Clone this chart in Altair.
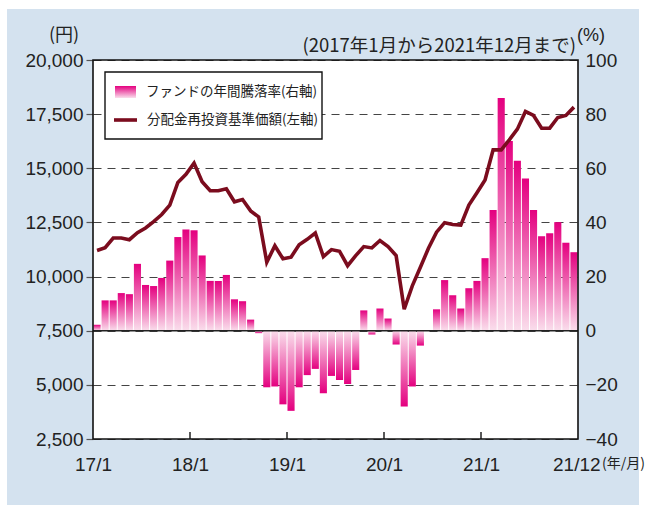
import altair as alt
import pandas as pd

# ---- data ----
months = list(range(60))  # 2017/1 .. 2021/12
fund_change = [2.2, 11.2, 11.2, 13.9, 13.5, 24.7, 16.9, 16.5, 19.5, 25.9,
               34.6, 37.4, 37.1, 27.8, 18.4, 18.4, 20.6, 11.6, 10.9, 4.1,
               -0.9, -20.9, -20.6, -27.2, -29.6, -20.9, -16.4, -14.1, -23.1, -16.7,
               -18.2, -19.7, -14.5, 7.5, -1.4, 8.2, 4.5, -5.1, -28.0, -20.6,
               -5.5, 0.2, 7.9, 18.7, 13.1, 8.2, 15.7, 18.4, 26.8, 44.6,
               86.0, 70.1, 62.8, 56.2, 44.6, 34.9, 36.0, 40.1, 32.5, 29.0]
nav = [11207, 11331, 11780, 11780, 11703, 12028, 12245, 12539, 12864, 13297,
       14350, 14721, 15240, 14380, 13963, 13963, 14056, 13452, 13560, 13034,
       12755, 10665, 11424, 10820, 10897, 11470, 11718, 12012, 10925, 11246,
       11169, 10503, 10967, 11385, 11323, 11664, 11385, 10967, 8490, 9574,
       10426, 11308, 12051, 12490, 12407, 12377, 13303, 13874, 14460, 15849,
       15849, 16312, 16806, 17623, 17438, 16852, 16852, 17346, 17438, 17824]
tick_months = [0, 12, 24, 36, 48]
tick_labels = ["17/1", "18/1", "19/1", "20/1", "21/1"]
last_label = "21/12"
last_unit = "(年/月)"
left_ticks = [2500, 5000, 7500, 10000, 12500, 15000, 17500, 20000]
right_ticks = [-40, -20, 0, 20, 40, 60, 80, 100]
legend_labels = ["ファンドの年間騰落率(右軸)", "分配金再投資基準価額(左軸)"]
unit_left = "(円)"
unit_right = "(%)"
period = "(2017年1月から2021年12月まで)"

W, H = 485, 379
NUM_FONT = "Liberation Sans, Arial, Noto Sans CJK JP"
JP_FONT = "Noto Sans CJK JP"
PINK = "#e4007f"
PINK_LIGHT = "#fadeec"
LINE = "#7b0c1e"
BG = "#d4e2ef"
NUM_SIZE = 19

df = pd.DataFrame({"m": months, "chg": fund_change, "nav": nav})
one = pd.DataFrame({"k": [0]})

label_arr = "[" + ",".join("'%s'" % t for t in tick_labels) + "]"
x_axis = alt.Axis(values=tick_months, labelExpr=label_arr + "[round(datum.value/12)]",
                  ticks=False, domain=False, grid=False, labelFlush=False,
                  labelFont=NUM_FONT, labelFontSize=NUM_SIZE, labelColor="#222",
                  labelPadding=16, title=None)
x_scale = alt.Scale(domain=[0, 60], nice=False, zero=False)

right_axis = alt.Axis(orient="right", values=right_ticks, ticks=False, domain=False,
                      grid=False, labelFont=NUM_FONT, labelFontSize=NUM_SIZE,
                      labelColor="#222", labelPadding=7, title=None)
left_axis = alt.Axis(orient="left", values=left_ticks,
                     labelExpr="format(datum.value, ',')", domain=False,
                     grid=True, gridDash=[8, 6], gridColor="#444", gridWidth=1.2,
                     ticks=True, tickSize=7, tickColor="#555", tickWidth=1.2,
                     labelFont=NUM_FONT, labelFontSize=NUM_SIZE, labelColor="#222",
                     labelPadding=3, title=None)
y_right = alt.Scale(domain=[-40, 100], nice=False, zero=False)
y_left = alt.Scale(domain=[2500, 20000], nice=False, zero=False)

grad_up = alt.Gradient(gradient="linear", x1=0, x2=0, y1=1, y2=0,
                       stops=[alt.GradientStop(color=PINK_LIGHT, offset=0),
                              alt.GradientStop(color=PINK, offset=1)])
grad_down = alt.Gradient(gradient="linear", x1=0, x2=0, y1=0, y2=1,
                         stops=[alt.GradientStop(color=PINK_LIGHT, offset=0),
                                alt.GradientStop(color=PINK, offset=1)])

# ---- white margin strips around the blue panel ----
def strip(x, x2, y, y2):
    return alt.Chart(one).mark_rect(color="white").encode(
        x=alt.value(x), x2=alt.value(x2), y=alt.value(y), y2=alt.value(y2))

margins = alt.layer(strip(-93, 553, -60, -51), strip(-93, -86, -60, 451),
                    strip(546, 553, -60, 451), strip(-93, 553, 445, 451))

# ---- bars (right axis) ----
base = alt.Chart(df).transform_calculate(
    x0="datum.m + 0.06", x1="datum.m + 0.94", xc="datum.m + 0.5")

pos = base.transform_filter("datum.chg >= 0").mark_bar(fill=grad_up).encode(
    x=alt.X("x0:Q", scale=x_scale, axis=x_axis), x2="x1:Q",
    y=alt.Y("chg:Q", scale=y_right, axis=right_axis), y2=alt.Y2(datum=0))
neg = base.transform_filter("datum.chg < 0").mark_bar(fill=grad_down).encode(
    x=alt.X("x0:Q", scale=x_scale, axis=x_axis), x2="x1:Q",
    y=alt.Y("chg:Q", scale=y_right, axis=right_axis), y2=alt.Y2(datum=0))
zero = alt.Chart(one).mark_rule(color="#222", strokeWidth=1.6).encode(
    y=alt.YDatum(0, scale=y_right, axis=right_axis))
tick_df = pd.DataFrame({"t": tick_months[1:]})
inward = alt.Chart(tick_df).mark_rule(color="#222", strokeWidth=1.5).encode(
    x=alt.X("t:Q", scale=x_scale, axis=x_axis),
    y=alt.YDatum(-40, scale=y_right, axis=right_axis), y2=alt.Y2Datum(-37.4))
bars = alt.layer(pos, neg, zero, inward)

# ---- line (left axis) ----
line = base.mark_line(color=LINE, strokeWidth=3.6).encode(
    x=alt.X("xc:Q", scale=x_scale, axis=x_axis),
    y=alt.Y("nav:Q", scale=y_left, axis=left_axis))
lines = alt.layer(line)

# ---- frame, legend, texts ----
frame = alt.Chart(one).mark_rect(fillOpacity=0, stroke="#111", strokeWidth=1.6).encode(
    x=alt.value(0), x2=alt.value(W), y=alt.value(0), y2=alt.value(H))
leg_box = alt.Chart(one).mark_rect(fill="white", stroke="#111", strokeWidth=1.4).encode(
    x=alt.value(12), x2=alt.value(229), y=alt.value(12), y2=alt.value(79))
leg_sw = alt.Chart(one).mark_rect(fill=grad_up).encode(
    x=alt.value(22), x2=alt.value(43), y=alt.value(26), y2=alt.value(38))
leg_ln = alt.Chart(one).mark_rule(color=LINE, strokeWidth=3.6).encode(
    x=alt.value(21), x2=alt.value(44), y=alt.value(60))
leg_t1 = alt.Chart(one).mark_text(text=legend_labels[0], font=JP_FONT, fontSize=13.5,
                                  align="left", baseline="middle", color="#222").encode(
    x=alt.value(53), y=alt.value(32))
leg_t2 = alt.Chart(one).mark_text(text=legend_labels[1], font=JP_FONT, fontSize=13.5,
                                  align="left", baseline="middle", color="#222").encode(
    x=alt.value(54), y=alt.value(60))
t_unit_l = alt.Chart(one).mark_text(text=unit_left, font=JP_FONT, fontSize=18,
                                    align="center", baseline="middle", color="#222").encode(
    x=alt.value(-29), y=alt.value(-24))
t_unit_r = alt.Chart(one).mark_text(text=unit_right, font=NUM_FONT, fontSize=18,
                                    align="center", baseline="middle", color="#222").encode(
    x=alt.value(498), y=alt.value(-24))
t_period = alt.Chart(one).mark_text(text=period, font=JP_FONT, fontSize=18.5,
                                    align="right", baseline="middle", color="#222").encode(
    x=alt.value(483), y=alt.value(-14))
last_df = pd.DataFrame({"t": [60], "lab": [last_label], "unit": [last_unit]})
t_last = alt.Chart(last_df).mark_text(font=NUM_FONT, fontSize=NUM_SIZE, align="left",
                                      baseline="top", dx=-25, dy=17, color="#222").encode(
    x=alt.X("t:Q", scale=x_scale, axis=x_axis), y=alt.value(H), text="lab:N")
t_last_u = alt.Chart(last_df).mark_text(font=JP_FONT, fontSize=14, align="left",
                                        baseline="top", dx=24, dy=18, color="#222").encode(
    x=alt.X("t:Q", scale=x_scale, axis=x_axis), y=alt.value(H), text="unit:N")
over = alt.layer(frame, leg_box, leg_sw, leg_ln, leg_t1, leg_t2,
                 t_unit_l, t_unit_r, t_period, t_last, t_last_u)

chart = alt.layer(margins, bars, lines, over).resolve_scale(
    y="independent"
).properties(
    width=W, height=H,
    autosize=alt.AutoSizeParams(type="none"),
    padding={"left": 93, "top": 60, "right": 68, "bottom": 72},
    background=BG,
).configure_view(strokeWidth=0, fill="white")

chart.save("out.html", embed_options={"renderer": "svg", "actions": False})
